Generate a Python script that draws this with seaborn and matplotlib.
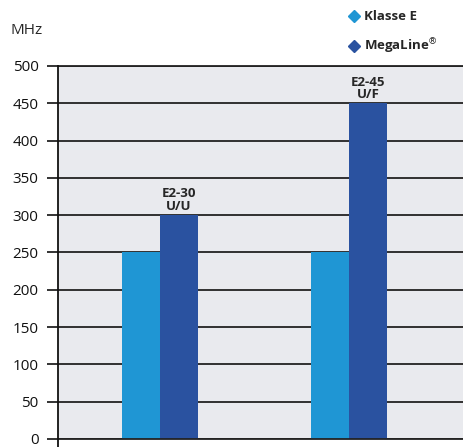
import matplotlib
matplotlib.use("Agg")
import matplotlib.pyplot as plt
import seaborn as sns
import pandas as pd
from matplotlib.lines import Line2D

groups = ["E2-30\nU/U", "E2-45\nU/F"]
series = ["Klasse E", "MegaLine®"]
klasse_e = [250, 250]
megaline = [300, 450]
yticks = [0, 50, 100, 150, 200, 250, 300, 350, 400, 450, 500]
colors = ["#1F96D4", "#2A52A0"]

df = pd.DataFrame({
    "group": groups * 2,
    "series": [series[0]] * 2 + [series[1]] * 2,
    "value": klasse_e + megaline,
})

sns.set_theme(style="white")
plt.rcParams["font.family"] = ["Open Sans", "DejaVu Sans"]

fig = plt.figure(figsize=(4.64, 4.47), dpi=100)
ax = fig.add_axes([58 / 464, 1 - 439 / 447, 1 - 58 / 464, (439 - 66) / 447])
ax.set_facecolor("#E9EAEE")

sns.barplot(data=df, x="group", y="value", hue="series", palette=colors,
            width=0.4, gap=0, saturation=1, ax=ax, legend=False,
            edgecolor="none", linewidth=0)

ax.set_xlim(-0.54, 1.608)
ax.set_ylim(0, 500)
ax.set_yticks(yticks)
ax.set_yticklabels([str(v) for v in yticks], fontsize=11, color="#111111")
ax.set_xticks([])
ax.set_xlabel("")
ax.set_ylabel("")
ax.yaxis.grid(True, color="#222222", linewidth=1.3)
ax.set_axisbelow(True)
for b in ax.patches:
    b.set_zorder(3)
for yv in (yticks[0], yticks[-1]):
    ax.axhline(yv, color="#222222", linewidth=1.3, clip_on=False, zorder=4)
ax.tick_params(axis="y", length=8, width=1.2, color="#111111", pad=6, left=True)
for s in ["top", "right", "bottom"]:
    ax.spines[s].set_visible(False)
ax.spines["left"].set_color("#111111")
ax.spines["left"].set_linewidth(1.3)
ax.spines["left"].set_bounds(-12, 500)
ax.spines["left"].set_zorder(5)

# annotations above dark bars
for i, (g, v) in enumerate(zip(groups, megaline)):
    ax.text(i + 0.1, v + 3, g, ha="center", va="bottom", fontsize=9.5,
            fontweight="bold", linespacing=0.95, zorder=4)

fig.text(10 / 464, 1 - 30 / 447, "MHz", fontsize=11, ha="left", va="center")

handles = [Line2D([], [], marker="D", linestyle="none", color=c, markersize=6.5)
           for c in colors]
leg_labels = ["Klasse E", "MegaLine$^{\\circledR}$"]
leg = fig.legend(handles, leg_labels, loc="upper left",
                 bbox_to_anchor=(338 / 464, 1 - 1 / 447), frameon=False,
                 prop={"weight": "bold", "size": 9.5}, handletextpad=0.3,
                 labelspacing=1.05, handlelength=1.0, borderpad=0.2)

fig.savefig("out.png", dpi=100)
